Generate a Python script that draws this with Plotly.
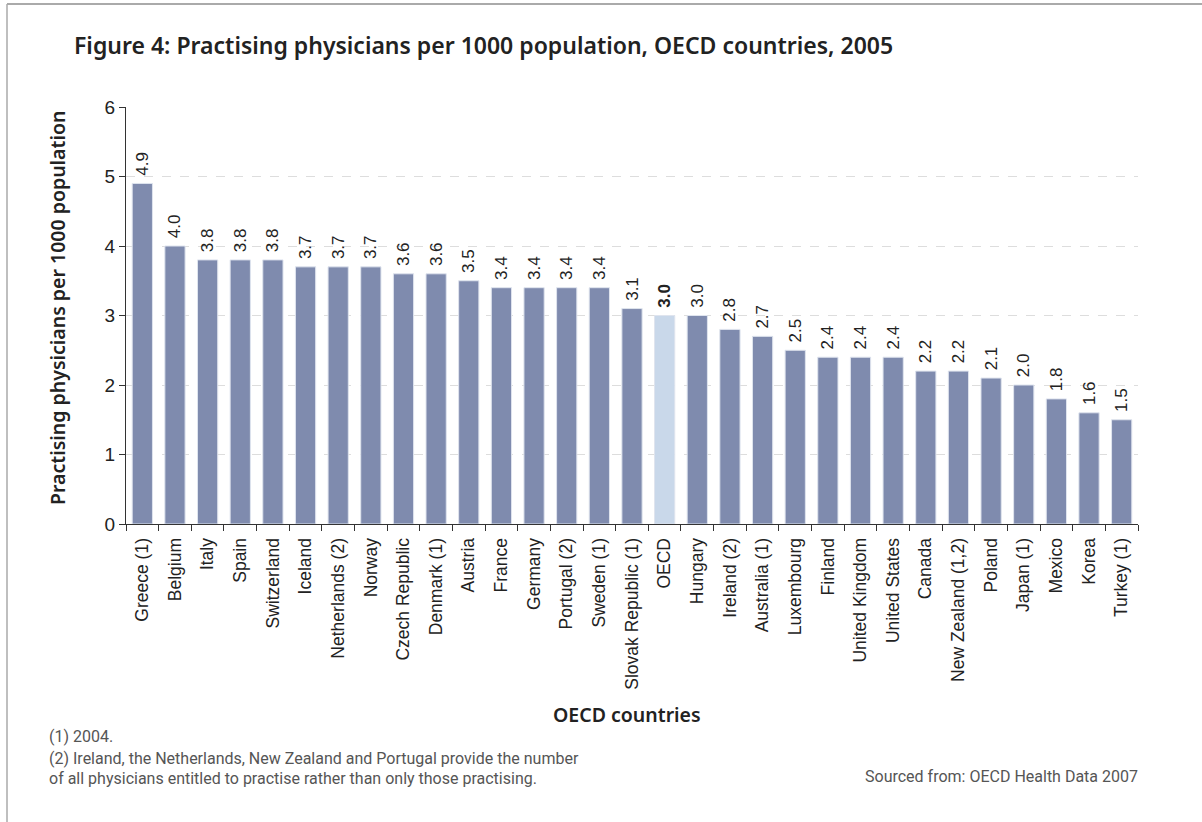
import plotly.graph_objects as go

countries = ["Greece (1)", "Belgium", "Italy", "Spain", "Switzerland", "Iceland",
             "Netherlands (2)", "Norway", "Czech Republic", "Denmark (1)", "Austria",
             "France", "Germany", "Portugal (2)", "Sweden (1)", "Slovak Republic (1)",
             "OECD", "Hungary", "Ireland (2)", "Australia (1)", "Luxembourg", "Finland",
             "United Kingdom", "United States", "Canada", "New Zealand (1,2)", "Poland",
             "Japan (1)", "Mexico", "Korea", "Turkey (1)"]
values = [4.9, 4.0, 3.8, 3.8, 3.8, 3.7, 3.7, 3.7, 3.6, 3.6, 3.5, 3.4, 3.4, 3.4, 3.4,
          3.1, 3.0, 3.0, 2.8, 2.7, 2.5, 2.4, 2.4, 2.4, 2.2, 2.2, 2.1, 2.0, 1.8, 1.6, 1.5]
highlight = "OECD"
y_ticks = [0, 1, 2, 3, 4, 5, 6]

bar_color = "#7f8bae"
hl_color = "#c9d8ea"
colors = [hl_color if c == highlight else bar_color for c in countries]
labels = ["\u00a0" + (f"<b>{v:.1f}</b>" if c == highlight else f"{v:.1f}")
          for c, v in zip(countries, values)]

fig = go.Figure(go.Bar(
    x=countries, y=values, marker=dict(color=colors, line=dict(color="#dfe4ee", width=1)),
    text=labels, textposition="outside", textangle=-90, cliponaxis=False, constraintext="none",
    textfont=dict(family="Liberation Sans, Arial", size=17, color="#222"),
))

W, H = 1202, 822
L, R, T, B = 126, 64, 107, 298
pw, ph = W - L - R, H - T - B

def px(x):
    return (x - L) / pw

def py(y):
    return (H - B - y) / ph

foot = dict(family="Roboto", size=16, color="#555")

fig.update_layout(
    width=W, height=H, margin=dict(l=L, r=R, t=T, b=B),
    paper_bgcolor="white", plot_bgcolor="white", showlegend=False, bargap=0.38,
    font=dict(family="Liberation Sans, Arial", color="#222"),
    xaxis=dict(type="category", tickangle=-90, tickson="boundaries", ticks="outside",
               ticklen=6, tickcolor="#333", showline=True, linecolor="#333", linewidth=1,
               ticklabelstandoff=6,
               tickfont=dict(size=17.5, color="#222"), showgrid=False),
    yaxis=dict(range=[0, 6], tickvals=y_ticks, ticks="outside", ticklen=6, tickcolor="#333",
               showline=True, linecolor="#333", linewidth=1, tickfont=dict(size=19, color="#222"),
               showgrid=True, gridcolor="#dddddd", griddash="dash", gridwidth=1, zeroline=False),
    annotations=[
        dict(text="Figure 4: Practising physicians per 1000 population, OECD countries, 2005",
             xref="paper", yref="paper", x=px(72), y=py(45), xanchor="left", yanchor="middle",
             showarrow=False, font=dict(family="Noto Sans", size=23, color="#222", weight=600)),
        dict(text="Practising physicians per 1000 population", textangle=-90,
             xref="paper", yref="paper", x=px(57), y=py(308), xanchor="center", yanchor="middle",
             showarrow=False, font=dict(family="Noto Sans", size=19.5, color="#222", weight=600)),
        dict(text="OECD countries", xref="paper", yref="paper", x=px(627), y=py(714),
             xanchor="center", yanchor="middle", showarrow=False,
             font=dict(family="Noto Sans", size=19.5, color="#222", weight=600)),
        dict(text="(1) 2004.", xref="paper", yref="paper", x=px(47), y=py(736),
             xanchor="left", yanchor="middle", showarrow=False, font=foot),
        dict(text="(2) Ireland, the Netherlands, New Zealand and Portugal provide the number",
             xref="paper", yref="paper", x=px(47), y=py(758),
             xanchor="left", yanchor="middle", showarrow=False, font=foot),
        dict(text="of all physicians entitled to practise rather than only those practising.",
             xref="paper", yref="paper", x=px(47), y=py(778),
             xanchor="left", yanchor="middle", showarrow=False, font=foot),
        dict(text="Sourced from: OECD Health Data 2007",
             xref="paper", yref="paper", x=px(1140), y=py(776),
             xanchor="right", yanchor="middle", showarrow=False, font=foot),
    ],
    shapes=[
        dict(type="line", xref="paper", yref="paper", x0=px(7), x1=px(1210), y0=py(4), y1=py(4),
             line=dict(color="#aaaaaa", width=2)),
        dict(type="line", xref="paper", yref="paper", x0=px(7), x1=px(7), y0=py(4), y1=py(830),
             line=dict(color="#aaaaaa", width=1.5)),
    ],
)

fig.write_html("out.html")
